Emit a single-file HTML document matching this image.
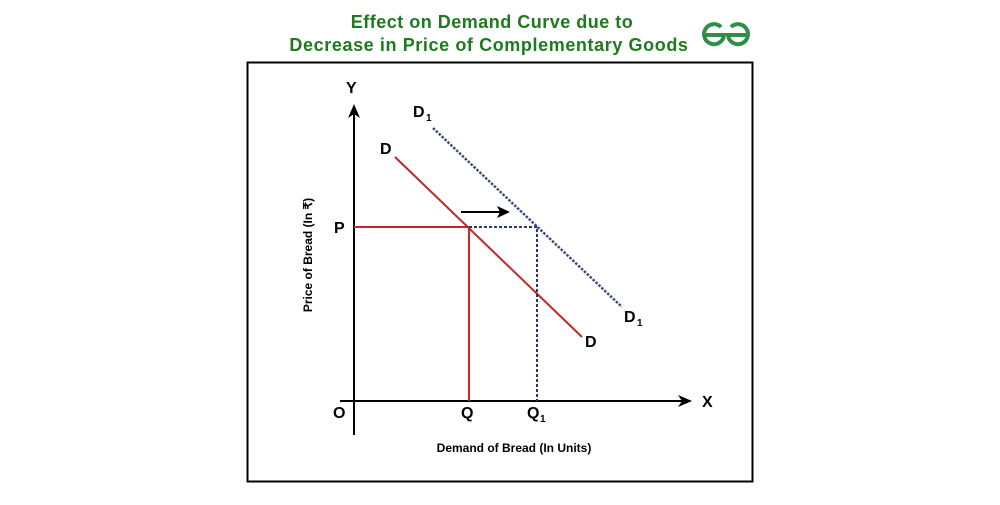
<!DOCTYPE html>
<html><head><style>body{margin:0;background:#fff}</style></head><body>
<svg width="1000" height="500" xmlns="http://www.w3.org/2000/svg" font-family="Liberation Sans, sans-serif" font-weight="bold">
<text x="492" y="28" text-anchor="middle" font-size="18" letter-spacing="0.5" fill="#1e7a1e">Effect on Demand Curve due to</text>
<text x="489" y="51" text-anchor="middle" font-size="18" letter-spacing="0.6" fill="#1e7a1e">Decrease in Price of Complementary Goods</text>
<g fill="none" stroke="#2f8d46" stroke-width="4">
<path d="M704 35 h20 a10 10 0 1 1 -3 -8"/>
<path d="M748 35 h-20 a10 10 0 1 0 3 -8"/>
</g>
<rect x="247.5" y="62.5" width="505" height="419" fill="none" stroke="#000" stroke-width="2"/>
<line x1="354" y1="435" x2="354" y2="108" stroke="#000" stroke-width="2"/>
<path d="M348 118 L354 104 L360 118 L354 114Z" fill="#000"/>
<line x1="340" y1="401" x2="686" y2="401" stroke="#000" stroke-width="2"/>
<path d="M678 395 L692 401 L678 407 L682 401Z" fill="#000"/>
<line x1="395" y1="157" x2="582" y2="337" stroke="#c0282a" stroke-width="2"/>
<line x1="433" y1="128" x2="622" y2="307" stroke="#3a4a78" stroke-width="2.5" stroke-dasharray="2.5,1.5"/>
<polyline points="354,227 469,227 469,401" fill="none" stroke="#c0282a" stroke-width="2"/>
<polyline points="469,227 537,227 537,401" fill="none" stroke="#253a6a" stroke-width="2" stroke-dasharray="3,2"/>
<line x1="461" y1="212" x2="500" y2="212" stroke="#000" stroke-width="2"/>
<path d="M497 206 L510 212 L497 218 L500 212Z" fill="#000"/>
<g font-size="16" fill="#000">
<text x="346" y="93">Y</text>
<text x="702" y="407">X</text>
<text x="333" y="418">O</text>
<text x="334" y="233">P</text>
<text x="461" y="418">Q</text>
<text x="527" y="418">Q</text><text x="540" y="422" font-size="10">1</text>
<text x="380" y="154">D</text>
<text x="413" y="117">D</text><text x="426" y="121" font-size="10">1</text>
<text x="585" y="347">D</text>
<text x="624" y="322">D</text><text x="637" y="326" font-size="10">1</text>
</g>
<text x="514" y="452" text-anchor="middle" font-size="12" fill="#000">Demand of Bread (In Units)</text>
<text transform="translate(312,255) rotate(-90)" text-anchor="middle" font-size="12" fill="#000">Price of Bread (In ₹)</text>
</svg>
</body></html>
